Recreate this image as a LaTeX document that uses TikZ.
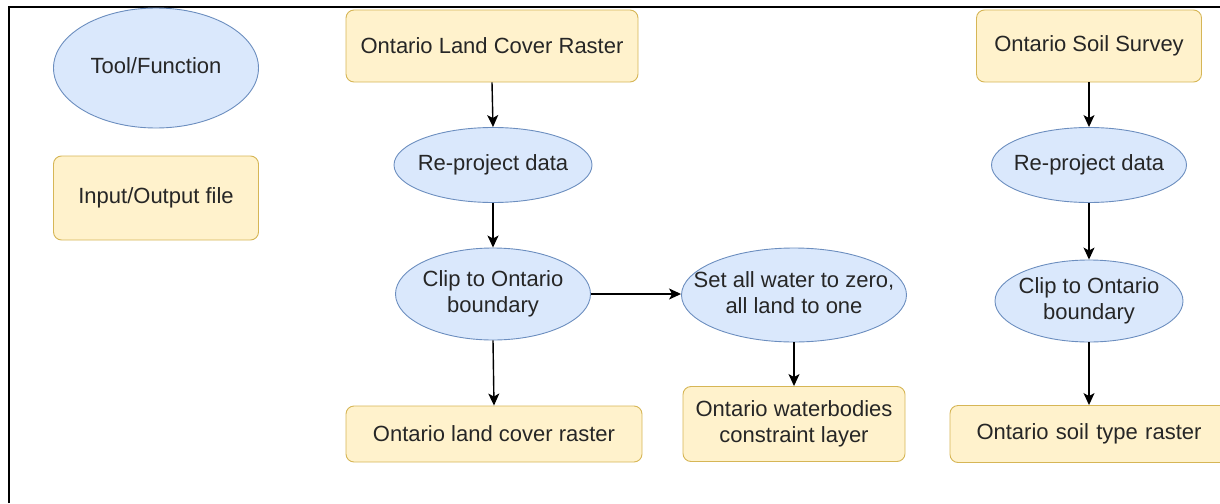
\documentclass[tikz,border=0pt]{standalone}
\usepackage{fontspec}
\setmainfont{Liberation Sans}
\usetikzlibrary{shapes.geometric,arrows.meta}
\definecolor{toolfill}{HTML}{DAE8FC}
\definecolor{tooldraw}{HTML}{6C8EBF}
\definecolor{filefill}{HTML}{FFF2CC}
\definecolor{filedraw}{HTML}{D6B656}
\newcommand{\ctext}[1]{\makebox[0pt][c]{\begin{tabular}{@{}c@{}}#1\end{tabular}}}
\tikzset{
  tool/.style={ellipse, fill=toolfill, draw=tooldraw, line width=0.9pt, inner sep=0pt, align=center,
    font=\fontsize{22}{26}\selectfont, text=black!85},
  iofile/.style={rectangle, rounded corners=8pt, fill=filefill, draw=filedraw, line width=0.9pt, inner sep=0pt, align=center,
    font=\fontsize{22}{26}\selectfont, text=black!85},
  flow/.style={draw=black, line width=1.4pt, -{Stealth[length=12pt,width=11pt,inset=3pt]}},
  frameline/.style={draw=black, line width=2.2pt}
}
\begin{document}
\begin{tikzpicture}[x=1pt,y=-1pt]
\useasboundingbox (0,0) rectangle (1220,503);
% frame
\coordinate (fa) at (9,503);
\coordinate (fb) at (9,7);
\coordinate (fc) at (1220,7);
\draw[frameline] (fa) -- (fb) -- (fc);
% legend
\node[tool, minimum width=205pt, minimum height=120pt] (legT) at (156,68) {\ctext{Tool/Function}};
\node[iofile, minimum width=205pt, minimum height=84pt] (legIO) at (156,198) {Input/Output file};
% land cover column
\node[iofile, minimum width=292pt, minimum height=72pt] (lcIn) at (492,46) {Ontario Land Cover Raster};
\node[tool, minimum width=198pt, minimum height=75pt] (rpA) at (493,165) {\ctext{Re-project data}};
\node[tool, minimum width=195pt, minimum height=92pt] (clipA) at (493,294) {\ctext{Clip to Ontario\\boundary}};
\node[iofile, minimum width=296pt, minimum height=56pt] (lcOut) at (494,434) {Ontario land cover raster};
% water column
\node[tool, minimum width=225pt, minimum height=94pt] (setw) at (794,295) {\ctext{Set all water to zero,\\all land to one}};
\node[iofile, minimum width=222pt, minimum height=75pt] (wb) at (794,424) {Ontario waterbodies\\constraint layer};
% soil column
\node[iofile, minimum width=225pt, minimum height=72pt] (ssIn) at (1089,46) {Ontario Soil Survey};
\node[tool, minimum width=195pt, minimum height=75pt] (rpB) at (1089,165) {\ctext{Re-project data}};
\node[tool, minimum width=188pt, minimum height=82pt] (clipB) at (1089,301) {\ctext{Clip to Ontario\\boundary}};
\node[iofile, minimum width=300pt, minimum height=57pt, text width=278pt] (stOut) at (1100,434) {Ontario soil type raster\hspace*{22pt}};
% connectors
\draw[flow] (lcIn.south) -- (rpA.north);
\draw[flow] (rpA.south) -- (clipA.north);
\draw[flow] (clipA.south) -- (lcOut.north);
\draw[flow] (clipA.east) -- (clipA.east -| setw.west);
\draw[flow] (setw.south) -- (wb.north);
\draw[flow] (ssIn.south) -- (rpB.north);
\draw[flow] (rpB.south) -- (clipB.north);
\draw[flow] (clipB.south) -- (clipB.south |- stOut.north);
\end{tikzpicture}
\end{document}
